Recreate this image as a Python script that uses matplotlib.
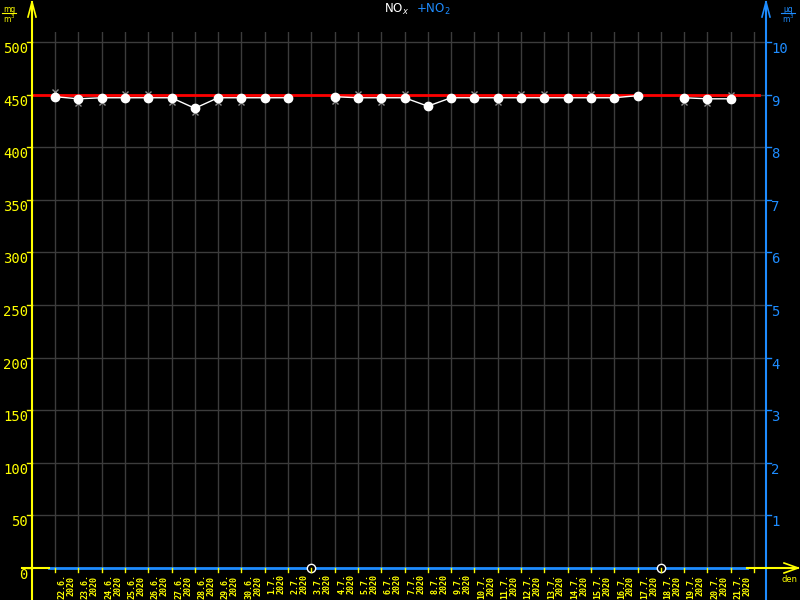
import numpy as np
import matplotlib
matplotlib.use('Agg')
import matplotlib.pyplot as plt

YELLOW = '#ffff00'
BLUE = '#1e8cff'
GRID = '#3c3c3c'

# dates of the days on the x axis (22.6.2020 - 21.7.2020)
days = ['22.6.', '23.6.', '24.6.', '25.6.', '26.6.', '27.6.', '28.6.', '29.6.',
        '30.6.', '1.7.', '2.7.', '3.7.', '4.7.', '5.7.', '6.7.', '7.7.', '8.7.',
        '9.7.', '10.7.', '11.7.', '12.7.', '13.7.', '14.7.', '15.7.', '16.7.',
        '17.7.', '18.7.', '19.7.', '20.7.', '21.7.']
year = '2020'

# NOx daily values (None = no data)
nox = [448, 446, 447, 447, 447, 447, 437, 447, 447, 447, 447, None,
       448, 447, 447, 447, 439, 447, 447, 447, 447, 447, 447, 447,
       447, 449, None, 447, 446, 446]
# grey range marks beside the daily points
marks = [452, 442, 443, 451, 451, 443, 433, 443, 443, None, None, None,
         444, 451, 443, 451, None, None, 451, 443, 451, 451, None, 451,
         None, None, None, 443, 442, 450]
# days without data, drawn as empty circles on the axis
missing = [0 if v is None else np.nan for v in nox]
no2 = [0] * len(days)
limit = 450

W, H = 800, 600
fig = plt.figure(figsize=(8, 6), dpi=100, facecolor='black')

x0, x1 = 32, 766
y0, y1 = 568, 32
ax = fig.add_axes([x0 / W, 1 - y0 / H, (x1 - x0) / W, (y0 - y1) / H])
ax.set_facecolor('black')
px_day = 23.3
ax.set_xlim((x0 - 55) / px_day, (x1 - 55) / px_day)
ax.set_ylim(0, (y0 - y1) / 1.052)
for s in ax.spines.values():
    s.set_visible(False)
ax.set_xticks([])
ax.set_yticks([])

n = len(days)
xd = np.arange(n)

# grid
for v in range(50, 501, 50):
    ax.axhline(v, color=GRID, lw=1, zorder=0)
for i in range(n + 1):
    ax.axvline(i, color=GRID, lw=1, zorder=0)

# limit line
ax.plot([ax.get_xlim()[0], n + 0.2], [limit, limit], color='#ff0000', lw=2, zorder=2)

# NO2 series along the bottom
ax.plot([xd[0] - 0.26, xd[-1] + 0.7], [no2[0], no2[-1]], color=BLUE, lw=2,
        zorder=3, clip_on=False)

# grey marks
mk = np.array([np.nan if v is None else v for v in marks], dtype=float)
ax.plot(xd, mk, ls='none', marker='x', ms=4, mew=1, color='#8c8c8c', zorder=3)

# NOx line
nv = np.array([np.nan if v is None else v for v in nox], dtype=float)
ax.plot(xd, nv, color='white', lw=1, marker='o', ms=6, mfc='white', mec='white', zorder=4)
ax.plot(xd, missing, ls='none', marker='o', ms=6, mfc='black', mec='white', mew=1,
        zorder=5, clip_on=False)

# overlay in pixel coords for axes, arrows and labels
ov = fig.add_axes([0, 0, 1, 1])
ov.set_xlim(0, W)
ov.set_ylim(H, 0)
ov.axis('off')
ov.patch.set_alpha(0)

# axes lines
ov.plot([x0, x0], [2, H], color=YELLOW, lw=1.5)
ov.plot([x1, x1], [2, H], color=BLUE, lw=1.5)
ov.plot([22, 49], [y0, y0], color=YELLOW, lw=1.5)
ov.plot([747, 798], [y0, y0], color=YELLOW, lw=1.5)
# arrows
ov.plot([x0 - 4, x0, x0 + 4], [17, 2, 17], color=YELLOW, lw=1.2)
ov.plot([x1 - 4, x1, x1 + 4], [17, 2, 17], color=BLUE, lw=1.2)
ov.plot([784, 798, 784], [563, 568, 573], color=YELLOW, lw=1.2)

# left ticks & labels
for v in range(0, 501, 50):
    py = y0 - v * 1.052
    ov.plot([x0 - 5, x0], [py, py], color=YELLOW, lw=1)
    ov.text(28, py + 7, str(v), color=YELLOW, fontsize=10, ha='right', va='center',
            family='DejaVu Sans Mono')
for k in range(1, 11):
    py = y0 - k * 50 * 1.052
    ov.plot([x1, x1 + 5], [py, py], color=BLUE, lw=1)
    ov.text(771, py + 7, str(k), color=BLUE, fontsize=10, ha='left', va='center',
            family='DejaVu Sans Mono')

# x ticks & labels
for i in range(n + 1):
    px = 55 + i * px_day
    ov.plot([px, px], [y0, y0 + 4], color=YELLOW, lw=1)
for i, d in enumerate(days):
    px = 55 + (i + 0.5) * px_day
    ov.text(px, 574, d + '\n' + year, color=YELLOW, fontsize=6, rotation=90,
            ha='center', va='top', family='DejaVu Sans Mono', weight='bold',
            linespacing=1.0)

# units
ov.text(9, 9, 'mg', color=YELLOW, fontsize=5.5, ha='center', va='center')
ov.plot([2, 16], [13, 13], color=YELLOW, lw=0.8)
ov.text(9, 19, 'm$^3$', color=YELLOW, fontsize=5.5, ha='center', va='center')
ov.text(788, 9, 'µg', color=BLUE, fontsize=5.5, ha='center', va='center')
ov.plot([781, 795], [13, 13], color=BLUE, lw=0.8)
ov.text(788, 19, 'm$^3$', color=BLUE, fontsize=5.5, ha='center', va='center')
ov.text(790, 580, 'den', color=YELLOW, fontsize=6, ha='center', va='center')

# title
ov.text(397, 9, 'NO$_x$', color='white', fontsize=8.5, ha='center', va='center')
ov.text(433, 9, '+NO$_2$', color=BLUE, fontsize=8.5, ha='center', va='center')

fig.savefig('out.png', dpi=100, facecolor='black')
